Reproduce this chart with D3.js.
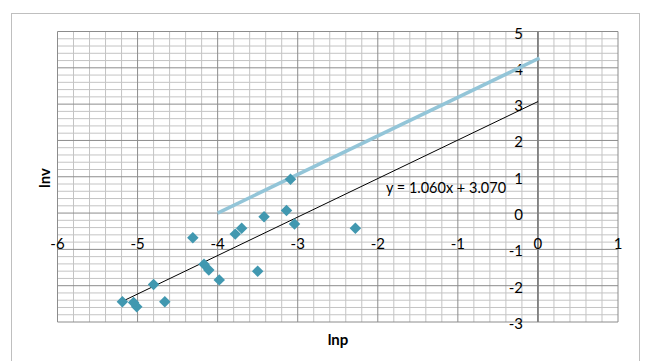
<!DOCTYPE html>
<html>
<head>
<meta charset="utf-8">
<script src="https://cdn.jsdelivr.net/npm/d3@7"></script>
<style>
  body { margin: 0; background: #fff; }
  svg { display: block; font-family: Lato, "Open Sans", sans-serif; }
</style>
</head>
<body>
<div id="chart"></div>
<script>
// points
const lnp = [-5.19, -5.05, -5.01, -4.80, -4.66, -4.31, -4.17, -4.11, -3.98,
             -3.78, -3.70, -3.50, -3.42, -3.14, -3.09, -3.04, -2.28];
const lnv = [-2.44, -2.46, -2.58, -1.97, -2.44, -0.68, -1.41, -1.57, -1.84,
             -0.58, -0.42, -1.60, -0.10, 0.07, 0.93, -0.30, -0.42];

// trendline from the label
const slope = 1.060, intercept = 3.070;
const trendEnd = 0;

// light blue line
const blueX = [-4.0, 0.02];
const blueY = [0.0, 4.27];

const xTicks = [-6, -5, -4, -3, -2, -1, 0, 1];
const yTicks = [-3, -2, -1, 0, 1, 2, 3, 4, 5];

const width = 646, height = 361;

let svg = d3.select("#chart").append("svg")
    .attr("width", width)
    .attr("height", height);

// chart border
svg.append("rect")
    .attr("x", 11.5).attr("y", 13.5)
    .attr("width", 628).attr("height", 360)
    .attr("fill", "#fff")
    .attr("stroke", "#bfbfbf");

let x = d3.scaleLinear().domain([-6, 1]).range([57.5, 618]);
let y = d3.scaleLinear().domain([-3, 5]).range([322, 31.5]);

let isMajor = v => Math.abs(v - Math.round(v)) < 1e-6;

// minor + major grid
let xs = d3.range(0, 36).map(i => +(-6 + i * 0.2).toFixed(1));
let ys = d3.range(0, 41).map(i => +(-3 + i * 0.2).toFixed(1));

let grid = svg.append("g");
[false, true].forEach(major => {
    grid.selectAll(null)
        .data(xs.filter(v => isMajor(v) === major))
        .enter().append("line")
        .attr("x1", d => x(d)).attr("x2", d => x(d))
        .attr("y1", y(-3)).attr("y2", y(5))
        .attr("stroke", major ? "#8c8c8c" : "#c4c4c4");
    grid.selectAll(null)
        .data(ys.filter(v => isMajor(v) === major))
        .enter().append("line")
        .attr("x1", x(-6)).attr("x2", x(1))
        .attr("y1", d => y(d)).attr("y2", d => y(d))
        .attr("stroke", major ? "#8c8c8c" : "#c4c4c4");
});

// vertical axis at x = 0
svg.append("line")
    .attr("x1", x(0)).attr("x2", x(0))
    .attr("y1", y(-3)).attr("y2", y(5))
    .attr("stroke", "#808080")
    .attr("stroke-width", 1.8);

// tick labels
svg.append("g").selectAll("text")
    .data(xTicks).enter().append("text")
    .attr("x", d => x(d))
    .attr("y", 249)
    .attr("text-anchor", "middle")
    .attr("font-size", 15)
    .attr("fill", "#000")
    .text(d => d);

svg.append("g").selectAll("text")
    .data(yTicks).enter().append("text")
    .attr("x", 523)
    .attr("y", d => y(d) + 7)
    .attr("text-anchor", "end")
    .attr("font-size", 15)
    .attr("fill", "#000")
    .text(d => d);

// light blue line
let line = d3.line().x(d => x(d[0])).y(d => y(d[1]));
svg.append("path")
    .datum(d3.zip(blueX, blueY))
    .attr("d", line)
    .attr("fill", "none")
    .attr("stroke", "#93c5d8")
    .attr("stroke-width", 3.5);

// trendline
let tx0 = d3.min(lnp);
svg.append("path")
    .datum([[tx0, slope * tx0 + intercept], [trendEnd, slope * trendEnd + intercept]])
    .attr("d", line)
    .attr("fill", "none")
    .attr("stroke", "#000")
    .attr("stroke-width", 1);

// points
let diamond = d3.symbol().type(d3.symbolDiamond2).size(84);
svg.append("g").selectAll("path")
    .data(d3.zip(lnp, lnv)).enter().append("path")
    .attr("transform", d => `translate(${x(d[0])},${y(d[1])})`)
    .attr("d", diamond)
    .attr("fill", "#4198b0");

// equation label
svg.append("text")
    .attr("x", 446).attr("y", 193)
    .attr("text-anchor", "middle")
    .attr("font-size", 14.5)
    .text("y = 1.060x + 3.070");

// axis titles
svg.append("text")
    .attr("x", 338).attr("y", 345)
    .attr("text-anchor", "middle")
    .attr("font-size", 15)
    .attr("font-weight", "bold")
    .text("lnp");

svg.append("text")
    .attr("transform", "translate(50,178) rotate(-90)")
    .attr("text-anchor", "middle")
    .attr("font-size", 15)
    .attr("font-weight", "bold")
    .text("lnv");
</script>
</body>
</html>
